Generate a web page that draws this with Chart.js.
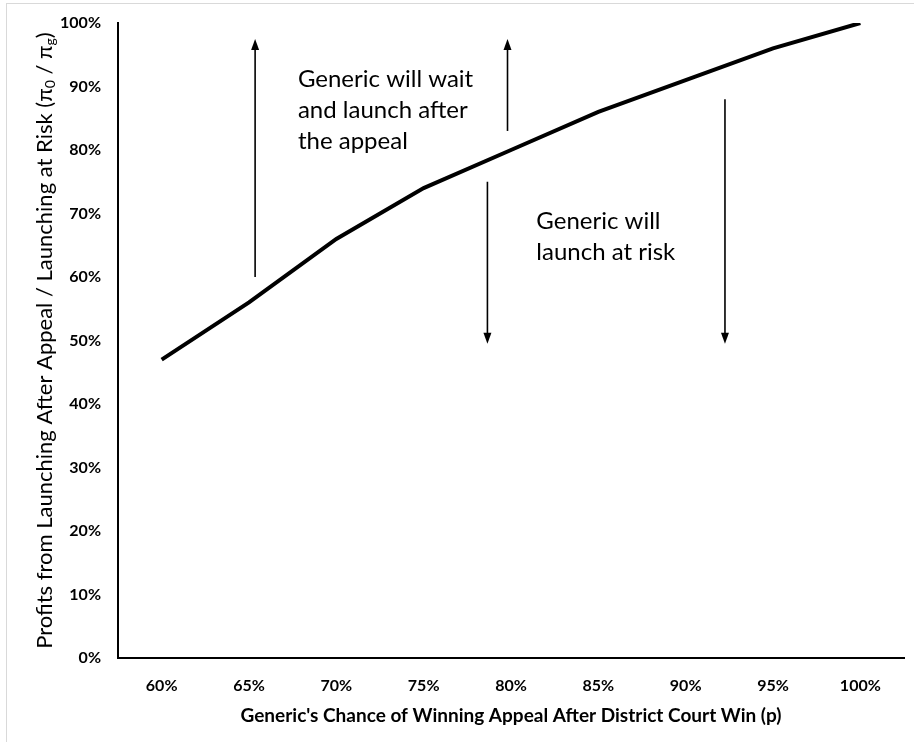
<!DOCTYPE html>
<html>
<head>
<meta charset="utf-8">
<script src="https://cdn.jsdelivr.net/npm/chart.js@4.4.1/dist/chart.umd.min.js"></script>
<style>
  html, body { margin: 0; padding: 0; background: #fff; }
  #wrap { position: relative; width: 914px; height: 742px; overflow: hidden; }
  #frame { position: absolute; left: 6px; top: 3px; width: 930px; height: 760px;
           border: 1px solid #d9d9d9; box-sizing: border-box; pointer-events: none; }
</style>
</head>
<body>
<div id="wrap">
  <canvas id="chart" width="914" height="742"></canvas>
  <div id="frame"></div>
</div>
<script>
// chance of winning the appeal (x categories)
const pLabels = ['60%', '65%', '70%', '75%', '80%', '85%', '90%', '95%', '100%'];
// profits after appeal / at risk, in percent
const profitRatio = [47, 56, 66, 74, 80, 86, 91, 96, 100];

// arrows: position on the category axis (index), start and end value in %
const arrowPos = [1.07, 3.96, 3.73, 6.45];
const arrowFrom = [60, 83, 75, 88];
const arrowTo = [97.5, 97.5, 49.5, 49.5];

// text notes: category position of left edge, value at first baseline
const noteLines = [
    ['Generic will wait', 'and launch after', 'the appeal'],
    ['Generic will', 'launch at risk']
];
const notePos = [1.56, 4.29];
const noteTop = [89.9, 67.5];

const FONT = 'Lato, "Open Sans", sans-serif';

// y axis title with subscripts
const yTitleParts = [
    { t: 'Profits from Launching After Appeal / Launching at Risk (\u03c0', sub: false },
    { t: '0', sub: true },
    { t: ' / \u03c0', sub: false },
    { t: 'g', sub: true },
    { t: ')', sub: false }
];

const overlay = {
    id: 'overlay',
    afterDraw(chart) {
        const ctx = chart.ctx;
        const x = chart.scales.x;
        const y = chart.scales.y;
        ctx.save();

        // arrows
        ctx.strokeStyle = '#000';
        ctx.fillStyle = '#000';
        ctx.lineWidth = 1.6;
        arrowPos.forEach((p, i) => {
            const px = x.getPixelForValue(p);
            const y0 = y.getPixelForValue(arrowFrom[i]);
            const y1 = y.getPixelForValue(arrowTo[i]);
            const dir = Math.sign(y1 - y0);
            ctx.beginPath();
            ctx.moveTo(px, y0);
            ctx.lineTo(px, y1 - dir * 8);
            ctx.stroke();
            ctx.beginPath();
            ctx.moveTo(px, y1);
            ctx.lineTo(px - 4, y1 - dir * 11);
            ctx.lineTo(px + 4, y1 - dir * 11);
            ctx.closePath();
            ctx.fill();
        });

        // notes
        ctx.font = '24px ' + FONT;
        ctx.textBaseline = 'alphabetic';
        ctx.textAlign = 'left';
        noteLines.forEach((lines, i) => {
            const nx = x.getPixelForValue(notePos[i]);
            const ny = y.getPixelForValue(noteTop[i]);
            lines.forEach((line, j) => ctx.fillText(line, nx, ny + j * 31));
        });

        // y axis title
        const big = '22px ' + FONT;
        const small = '14px ' + FONT;
        let total = 0;
        yTitleParts.forEach(part => {
            ctx.font = part.sub ? small : big;
            total += ctx.measureText(part.t).width;
        });
        ctx.translate(45, (y.top + y.bottom) / 2);
        ctx.rotate(-Math.PI / 2);
        let cx = -total / 2;
        yTitleParts.forEach(part => {
            ctx.font = part.sub ? small : big;
            ctx.fillText(part.t, cx, part.sub ? 10 : 7);
            cx += ctx.measureText(part.t).width;
        });
        ctx.restore();
    }
};

new Chart(document.getElementById('chart'), {
    type: 'line',
    data: {
        labels: pLabels,
        datasets: [{
            data: profitRatio,
            borderColor: '#000',
            borderWidth: 4,
            pointRadius: 0,
            tension: 0,
            fill: false
        }]
    },
    options: {
        responsive: false,
        animation: false,
        layout: { padding: { left: 0, right: 10, top: 23, bottom: 0 } },
        plugins: {
            legend: { display: false },
            tooltip: { enabled: false }
        },
        scales: {
            x: {
                offset: true,
                grid: { display: false, drawTicks: false },
                border: { display: true, color: '#000', width: 2 },
                ticks: { color: '#000', padding: 18, font: { family: FONT, size: 16, weight: 'bold' } },
                title: {
                    display: true,
                    text: "Generic's Chance of Winning Appeal After District Court Win (p)",
                    color: '#000',
                    font: { family: FONT, size: 19, weight: 'bold' },
                    padding: { top: 0, bottom: 15 }
                },
                afterFit(scale) {
                    scale.height = 84;
                    scale.paddingLeft = 0;
                    scale.paddingRight = 0;
                }
            },
            y: {
                min: 0,
                max: 100,
                grid: { display: false, drawTicks: false },
                border: { display: true, color: '#000', width: 2 },
                ticks: {
                    stepSize: 10,
                    color: '#000',
                    padding: 17,
                    font: { family: FONT, size: 16, weight: 'bold' },
                    callback: v => v + '%'
                },
                afterFit(scale) {
                    scale.width = 118;
                    scale.paddingTop = 0;
                    scale.paddingBottom = 0;
                }
            }
        }
    },
    plugins: [overlay]
});
</script>
</body>
</html>
